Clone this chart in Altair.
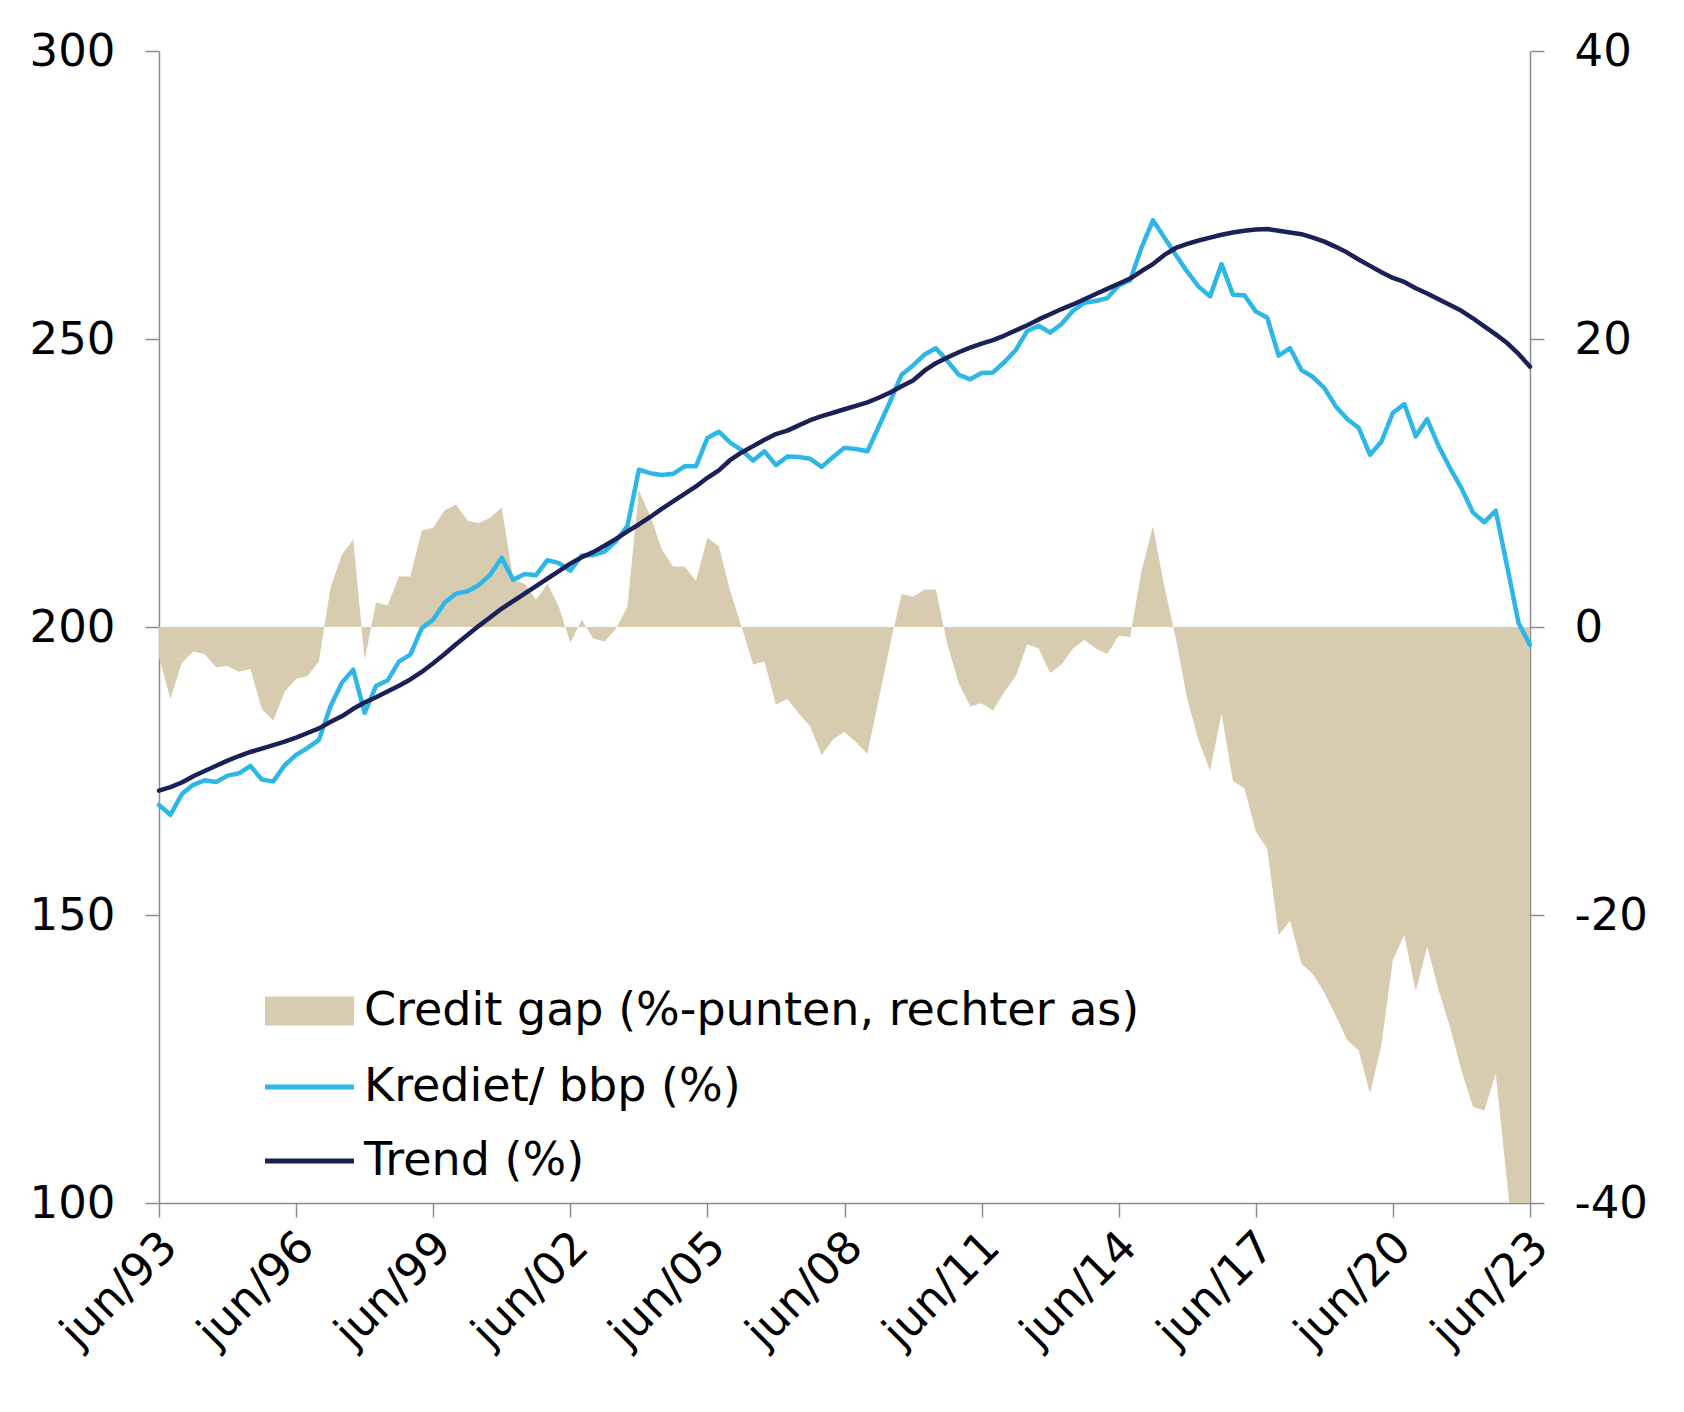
import altair as alt
import pandas as pd

# Quarterly observations, jun/93 .. jun/23
MONTHS = ["mrt", "jun", "sep", "dec"]
quarters = [f"{MONTHS[(k + 1) % 4]}/{(1993 + (k + 1) // 4) % 100:02d}" for k in range(121)]
tick_labels = [f"jun/{y % 100:02d}" for y in range(1993, 2024, 3)]

# Credit to GDP ratio (%)
krediet = [
    169.1, 167.4, 171.0, 172.6, 173.4, 173.1, 174.2, 174.6, 175.9, 173.5,
    173.2, 176.0, 177.8, 179.0, 180.4, 186.2, 190.3, 192.6, 185.1, 189.8,
    190.7, 194.0, 195.2, 199.8, 201.3, 204.2, 205.8, 206.2, 207.3, 209.1,
    212.0, 208.2, 209.2, 209.0, 211.6, 211.1, 209.8, 212.4, 212.5, 213.1,
    214.9, 217.5, 227.3, 226.7, 226.4, 226.6, 227.9, 227.9, 232.8, 233.9,
    232.0, 230.7, 228.9, 230.5, 228.1, 229.6, 229.5, 229.2, 227.8, 229.5,
    231.1, 230.9, 230.5, 234.8, 239.2, 243.8, 245.4, 247.3, 248.4, 246.2,
    243.8, 243.0, 244.1, 244.2, 246.0, 248.1, 251.4, 252.3, 251.1, 252.6,
    254.9, 256.3, 256.6, 257.1, 259.3, 260.2, 265.9, 270.6, 267.6, 264.6,
    261.7, 259.1, 257.4, 263.0, 257.7, 257.6, 254.8, 253.7, 247.1, 248.4,
    244.6, 243.4, 241.5, 238.3, 236.1, 234.6, 229.9, 232.2, 237.2, 238.7,
    233.1, 236.1, 231.4, 227.6, 224.1, 219.9, 218.2, 220.2, 210.5, 200.7,
    196.9,
]

# Long-run trend of the ratio (%)
trend = [
    171.6, 172.2, 173.0, 174.1, 175.0, 175.9, 176.8, 177.6, 178.3, 178.9,
    179.5, 180.1, 180.8, 181.6, 182.4, 183.5, 184.5, 185.8, 186.9, 187.8,
    188.8, 189.8, 190.9, 192.2, 193.7, 195.3, 197.0, 198.6, 200.2, 201.7,
    203.2, 204.5, 205.8, 207.1, 208.4, 209.7, 211.0, 212.1, 213.0, 214.1,
    215.3, 216.6, 217.8, 219.1, 220.5, 221.8, 223.1, 224.4, 225.9, 227.2,
    229.0, 230.3, 231.4, 232.5, 233.5, 234.1, 235.0, 235.9, 236.6, 237.2,
    237.8, 238.4, 239.0, 239.8, 240.7, 241.8, 242.8, 244.5, 245.8, 246.8,
    247.7, 248.5, 249.2, 249.8, 250.6, 251.5, 252.4, 253.4, 254.3, 255.2,
    256.0, 256.9, 257.8, 258.7, 259.6, 260.5, 261.8, 263.0, 264.6, 265.8,
    266.5, 267.1, 267.6, 268.1, 268.5, 268.8, 269.0, 269.1, 268.8, 268.5,
    268.2, 267.6, 266.9, 266.0, 265.0, 263.8, 262.7, 261.6, 260.6, 259.9,
    258.8, 257.9, 256.9, 255.9, 254.9, 253.6, 252.2, 250.8, 249.3, 247.4,
    245.2,
]

# Credit gap in percentage points (right axis)
gap = [
    -2.1, -5.0, -2.5, -1.7, -1.9, -2.8, -2.7, -3.1, -2.9, -5.7,
    -6.5, -4.5, -3.6, -3.4, -2.4, 2.7, 5.0, 6.1, -2.3, 1.7,
    1.5, 3.5, 3.5, 6.7, 6.9, 8.1, 8.5, 7.4, 7.2, 7.6,
    8.3, 3.3, 3.0, 1.9, 3.0, 1.4, -1.1, 0.5, -0.8, -1.0,
    -0.1, 1.4, 9.5, 7.7, 5.4, 4.2, 4.2, 3.2, 6.2, 5.6,
    2.5, 0.0, -2.6, -2.4, -5.4, -5.0, -6.0, -6.9, -8.9, -7.8,
    -7.3, -8.0, -8.8, -5.0, -1.2, 2.3, 2.1, 2.6, 2.6, -1.2,
    -3.9, -5.5, -5.3, -5.8, -4.5, -3.4, -1.2, -1.5, -3.2, -2.6,
    -1.5, -0.9, -1.5, -1.9, -0.6, -0.7, 3.9, 7.0, 2.8, -0.8,
    -5.0, -7.9, -10.0, -6.0, -10.7, -11.2, -14.2, -15.4, -21.4, -20.4,
    -23.4, -24.1, -25.4, -27.0, -28.7, -29.4, -32.4, -29.0, -23.1, -21.4,
    -25.3, -22.2, -25.2, -27.8, -30.8, -33.3, -33.6, -31.0, -38.6, -46.4,
    -48.0,
]

GAP_NAME = "Credit gap (%-punten, rechter as)"
KREDIET_NAME = "Krediet/ bbp (%)"
TREND_NAME = "Trend (%)"

TAN = "#D8CCB0"
BLUE = "#2DB7E6"
NAVY = "#1B2057"
AXIS_GREY = "#8C8C8C"
FONT = "DejaVu Sans"
AXIS_FS = 45
LEGEND_FS = 46

gap_df = pd.DataFrame({"kwartaal": quarters, "waarde": gap, "reeks": GAP_NAME})
lines_df = pd.DataFrame({
    "kwartaal": quarters + quarters,
    "waarde": krediet + trend,
    "reeks": [KREDIET_NAME] * len(quarters) + [TREND_NAME] * len(quarters),
})

x_enc = alt.X(
    "kwartaal:O",
    sort=quarters,
    scale=alt.Scale(domain=quarters, type="point", padding=0),
    axis=alt.Axis(
        values=tick_labels,
        labelAngle=-45,
        labelAlign="right",
        labelBaseline="middle",
        labelPadding=22,
        labelOffset=10,
    ),
    title=None,
)

area = alt.Chart(gap_df).mark_area(clip=True, interpolate="linear").encode(
    x=x_enc,
    y=alt.Y(
        "waarde:Q",
        stack=None,
        scale=alt.Scale(domain=[-40, 40], nice=False, zero=False),
        # plain hyphen for negative numbers
        axis=alt.Axis(orient="right", values=[-40, -20, 0, 20, 40], labelExpr="'' + datum.value"),
        title=None,
    ),
    y2=alt.datum(0),
    fill=alt.Fill(
        "reeks:N",
        scale=alt.Scale(domain=[GAP_NAME], range=[TAN]),
        legend=alt.Legend(
            orient="none",
            legendX=127.5,
            legendY=937,
            title=None,
            symbolType="M-3,-0.97H3V0.97H-3Z",
            symbolSize=880,
            symbolStrokeWidth=0,
            symbolOpacity=1,
            labelOffset=31.5,
            labelLimit=0,
        ),
    ),
)

lines = alt.Chart(lines_df).mark_line(
    strokeWidth=4.5, strokeJoin="round", strokeCap="round"
).encode(
    x=x_enc,
    y=alt.Y(
        "waarde:Q",
        scale=alt.Scale(domain=[100, 300], nice=False, zero=False),
        axis=alt.Axis(orient="left", values=[100, 150, 200, 250, 300]),
        title=None,
    ),
    stroke=alt.Stroke(
        "reeks:N",
        scale=alt.Scale(domain=[KREDIET_NAME, TREND_NAME], range=[BLUE, NAVY]),
        legend=alt.Legend(
            orient="none",
            legendX=127.5,
            legendY=1013,
            title=None,
            symbolType="M-3,0H3",
            symbolSize=880,
            symbolStrokeWidth=5,
            labelOffset=31.5,
            rowPadding=28,
            labelLimit=0,
        ),
    ),
)

chart = (
    alt.layer(area, lines)
    .resolve_scale(y="independent", fill="independent", stroke="independent")
    .properties(
        width=1371,
        height=1152,
        autosize=alt.AutoSizeParams(type="none"),
        padding={"left": 159, "top": 51, "right": 154, "bottom": 209},
        background="white",
    )
    .configure_view(stroke=None)
    .configure_axis(
        grid=False,
        domainColor=AXIS_GREY,
        domainWidth=1.5,
        tickColor=AXIS_GREY,
        tickWidth=1.5,
        tickSize=14,
        labelFont=FONT,
        labelFontSize=AXIS_FS,
        labelColor="black",
        labelPadding=30,
    )
    .configure_legend(
        labelFont=FONT,
        labelFontSize=LEGEND_FS,
        labelColor="black",
        padding=0,
    )
)

chart.save("out.html", embed_options={"renderer": "svg", "actions": False})
